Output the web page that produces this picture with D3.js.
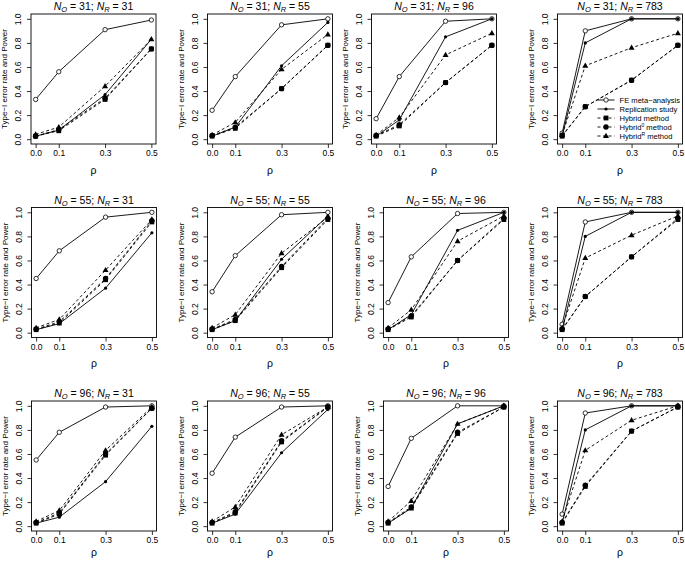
<!DOCTYPE html>
<html><head><meta charset="utf-8">
<script src="https://cdn.jsdelivr.net/npm/d3@7"></script>
<style>body{margin:0;background:#fff}svg{display:block}text{font-family:"Liberation Sans",Arial,sans-serif;fill:#000}</style>
</head><body><svg id="c" width="685" height="563"></svg>
<script>
// ---- data ----
const nO = [31, 55, 96];
const nR = [31, 55, 96, 783];
const rho = [0, 0.1, 0.3, 0.5];
const xTicks = ["0.0", "0.1", "0.3", "0.5"];
const yTicks = [0, 0.2, 0.4, 0.6, 0.8, 1.0];
const seriesNames = ["FE meta\u2212analysis", "Replication study", "Hybrid method", "Hybrid0 method", "HybridR method"];
// each row: panel (N_O, N_R) in order row-major
const feVals = [
  [0.33, 0.56, 0.91, 0.99], [0.24, 0.52, 0.95, 1.00], [0.17, 0.52, 0.98, 1.00], [0.05, 0.90, 1.00, 1.00],
  [0.45, 0.68, 0.96, 1.00], [0.34, 0.64, 0.98, 1.00], [0.25, 0.63, 0.99, 1.00], [0.07, 0.92, 1.00, 1.00],
  [0.55, 0.78, 0.99, 1.00], [0.44, 0.74, 0.99, 1.00], [0.33, 0.73, 1.00, 1.00], [0.10, 0.94, 1.00, 1.00]
];
const repVals = [
  [0.025, 0.075, 0.37, 0.83], [0.025, 0.10, 0.61, 0.97], [0.025, 0.16, 0.85, 1.00], [0.025, 0.80, 1.00, 1.00],
  [0.025, 0.075, 0.37, 0.83], [0.025, 0.10, 0.61, 0.97], [0.025, 0.15, 0.85, 1.00], [0.025, 0.80, 1.00, 1.00],
  [0.025, 0.075, 0.37, 0.83], [0.025, 0.10, 0.61, 0.97], [0.025, 0.15, 0.85, 1.00], [0.025, 0.80, 1.00, 1.00]
];
const hybridVals = [
  [0.025, 0.07, 0.33, 0.75], [0.025, 0.09, 0.42, 0.78], [0.025, 0.11, 0.47, 0.78], [0.025, 0.27, 0.49, 0.78],
  [0.025, 0.08, 0.44, 0.92], [0.025, 0.10, 0.54, 0.94], [0.025, 0.13, 0.60, 0.94], [0.025, 0.30, 0.63, 0.94],
  [0.025, 0.10, 0.59, 0.98], [0.025, 0.11, 0.70, 0.99], [0.025, 0.15, 0.77, 0.99], [0.025, 0.33, 0.79, 0.99]
];
const hybrid0Vals = [
  [0.025, 0.08, 0.34, 0.75], [0.03, 0.10, 0.42, 0.78], [0.03, 0.12, 0.47, 0.78], [0.03, 0.27, 0.49, 0.78],
  [0.03, 0.09, 0.45, 0.93], [0.03, 0.11, 0.55, 0.95], [0.03, 0.14, 0.60, 0.95], [0.03, 0.30, 0.63, 0.95],
  [0.03, 0.11, 0.60, 0.98], [0.03, 0.12, 0.71, 0.99], [0.03, 0.16, 0.78, 0.99], [0.03, 0.34, 0.79, 0.99]
];
const hybridRVals = [
  [0.04, 0.10, 0.44, 0.83], [0.035, 0.14, 0.58, 0.87], [0.035, 0.18, 0.70, 0.88], [0.035, 0.61, 0.76, 0.88],
  [0.04, 0.11, 0.52, 0.94], [0.04, 0.15, 0.66, 0.96], [0.04, 0.19, 0.76, 0.97], [0.04, 0.62, 0.81, 0.97],
  [0.04, 0.13, 0.63, 0.99], [0.04, 0.16, 0.76, 0.99], [0.04, 0.21, 0.85, 1.00], [0.04, 0.63, 0.88, 1.00]
];

// ---- layout ----
const svg = d3.select("#c");
const W = 125, H = 130;
const rowTops = [14, 207.5, 401];
const rhoOffsets = [30, 29, 25];
const colLefts = [[31, 207.5, 371.5, 557.5], [31.5, 207.5, 383.5, 557.5], [31.5, 207.5, 383.5, 557.5]];

const series = [
  {vals: feVals, dash: null, marker: "open"},
  {vals: repVals, dash: null, marker: "dot"},
  {vals: hybridVals, dash: "3,2.5", marker: "square"},
  {vals: hybrid0Vals, dash: "3,2.5", marker: "circle"},
  {vals: hybridRVals, dash: "3,2.5", marker: "triangle"}
];

function drawMarker(g, type, x, y) {
  if (type === "open") g.append("circle").attr("cx", x).attr("cy", y).attr("r", 2.2).attr("fill", "#fff").attr("stroke", "#000").attr("stroke-width", 0.8);
  else if (type === "dot") g.append("circle").attr("cx", x).attr("cy", y).attr("r", 1.6).attr("fill", "#000");
  else if (type === "square") g.append("rect").attr("x", x - 2.4).attr("y", y - 2.4).attr("width", 4.8).attr("height", 4.8).attr("fill", "#000");
  else if (type === "circle") g.append("circle").attr("cx", x).attr("cy", y).attr("r", 2.7).attr("fill", "#000");
  else if (type === "triangle") g.append("path").attr("d", `M${x},${y - 3.2}L${x + 3},${y + 2}L${x - 3},${y + 2}Z`).attr("fill", "#000");
}

nO.forEach((o, r) => {
  nR.forEach((rr, c) => {
    const idx = r * 4 + c;
    const left = colLefts[r][c], top = rowTops[r];
    const x = d3.scaleLinear().domain([-0.02, 0.52]).range([left, left + W]);
    const y = d3.scaleLinear().domain([-0.04, 1.04]).range([top + H, top]);
    const g = svg.append("g");

    // title
    const t = g.append("text").attr("x", left + W / 2).attr("y", top - 4).attr("text-anchor", "middle").attr("font-size", 10.5);
    t.append("tspan").attr("font-style", "italic").text("N");
    t.append("tspan").attr("font-style", "italic").attr("font-size", 7.5).attr("dy", 2).text("O");
    t.append("tspan").attr("dy", -2).text(` = ${o}; `);
    t.append("tspan").attr("font-style", "italic").text("N");
    t.append("tspan").attr("font-style", "italic").attr("font-size", 7.5).attr("dy", 2).text("R");
    t.append("tspan").attr("dy", -2).text(` = ${rr}`);

    // axes
    const xa = d3.axisBottom(x).tickValues(rho).tickFormat((d, i) => xTicks[i]).tickSize(4).tickSizeOuter(0).tickPadding(2);
    const xg = g.append("g").attr("transform", `translate(0,${top + H})`).call(xa);
    xg.select(".domain").remove();
    xg.selectAll("line").attr("stroke", "#000").attr("stroke-width", 0.8);
    xg.selectAll("text").attr("font-size", 8.5).attr("font-family", "Liberation Sans, Arial, sans-serif");

    const ya = d3.axisLeft(y).tickValues(yTicks).tickFormat(d3.format(".1f")).tickSize(4).tickSizeOuter(0);
    const yg = g.append("g").attr("transform", `translate(${left},0)`).call(ya);
    yg.select(".domain").remove();
    yg.selectAll("line").attr("stroke", "#000").attr("stroke-width", 0.8);
    yg.selectAll("text").attr("font-size", 8.5).attr("font-family", "Liberation Sans, Arial, sans-serif")
      .attr("x", null).attr("dy", null).attr("text-anchor", "middle")
      .attr("transform", "translate(-10,0) rotate(-90)");

    // box
    g.append("rect").attr("x", left).attr("y", top).attr("width", W).attr("height", H).attr("fill", "none").attr("stroke", "#000").attr("stroke-width", 0.9);

    // axis labels
    g.append("text").attr("x", left + W / 2).attr("y", top + H + rhoOffsets[r]).attr("text-anchor", "middle").attr("font-size", 10.5).text("\u03C1");
    g.append("text").attr("transform", `translate(${left - 24},${top + H / 2}) rotate(-90)`).attr("text-anchor", "middle").attr("font-size", 8).text("Type\u2212I error rate and Power");

    // series
    const line = d3.line().x((d, i) => x(rho[i])).y(d => y(d));
    series.forEach(s => {
      const v = s.vals[idx];
      g.append("path").attr("d", line(v)).attr("fill", "none").attr("stroke", "#000").attr("stroke-width", 0.9)
        .attr("stroke-dasharray", s.dash);
      v.forEach((d, i) => drawMarker(g, s.marker, x(rho[i]), y(d)));
    });

    // legend in panel (31, 783)
    if (r === 0 && c === 3) {
      const lx = left + 40, ly = top + 86, step = 9;
      series.forEach((s, i) => {
        const yy = ly + i * step;
        g.append("line").attr("x1", lx).attr("x2", lx + 17).attr("y1", yy).attr("y2", yy).attr("stroke", "#000").attr("stroke-width", 0.9).attr("stroke-dasharray", s.dash);
        drawMarker(g, s.marker, lx + 8.5, yy);
        const tt = g.append("text").attr("x", lx + 22).attr("y", yy + 3).attr("font-size", 7.6);
        if (i === 3 || i === 4) {
          tt.append("tspan").text("Hybrid");
          tt.append("tspan").attr("font-size", 5).attr("dy", -3.2).text(i === 3 ? "0" : "R");
          tt.append("tspan").attr("dy", 3.2).text(" method");
        } else tt.text(seriesNames[i]);
      });
    }
  });
});
</script></body></html>
